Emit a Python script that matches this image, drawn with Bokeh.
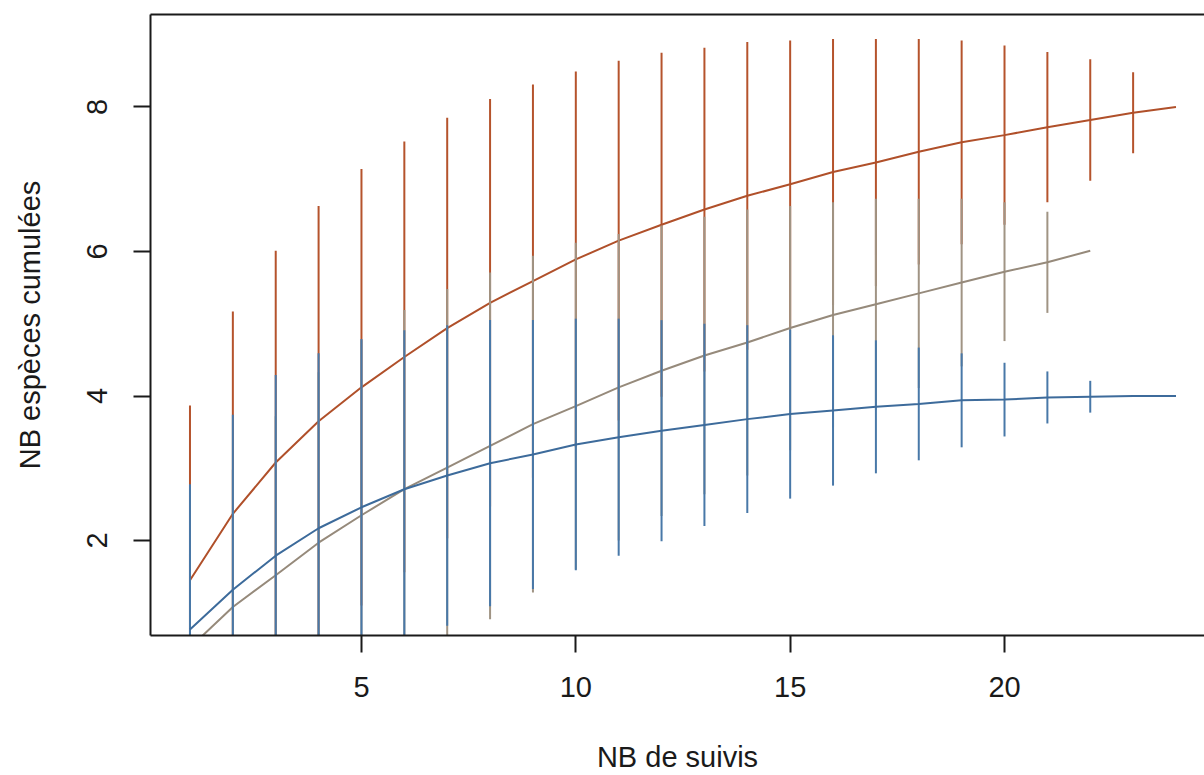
import numpy as np
from bokeh.plotting import figure
from bokeh.models import Range1d, LinearAxis, FixedTicker, ColumnDataSource
from bokeh.embed import file_html
from bokeh.resources import INLINE

# ---- data ----
rust_x = list(range(1, 25))
rust_mean = [1.45, 2.37, 3.08, 3.65, 4.12, 4.54, 4.94, 5.29, 5.59, 5.89, 6.15, 6.37,
             6.58, 6.77, 6.93, 7.10, 7.23, 7.38, 7.51, 7.61, 7.72, 7.82, 7.92, 8.00]
rust_sd = [1.21, 1.40, 1.465, 1.49, 1.51, 1.49, 1.455, 1.41, 1.36, 1.30, 1.245, 1.19,
           1.12, 1.065, 0.995, 0.92, 0.855, 0.78, 0.705, 0.62, 0.52, 0.42, 0.28, 0.0]

gray_x = list(range(1, 23))
gray_mean = [0.52, 1.08, 1.52, 1.97, 2.35, 2.71, 3.01, 3.31, 3.61, 3.86, 4.12,
             4.35, 4.56, 4.74, 4.94, 5.12, 5.27, 5.42, 5.57, 5.72, 5.85, 6.01]
gray_sd = [0.65, 0.95, 1.10, 1.18, 1.21, 1.24, 1.235, 1.20, 1.165, 1.13, 1.06,
           1.005, 0.96, 0.92, 0.845, 0.78, 0.73, 0.655, 0.58, 0.48, 0.35, 0.0]

blue_x = list(range(1, 25))
blue_mean = [0.77, 1.32, 1.79, 2.17, 2.46, 2.71, 2.90, 3.07, 3.19, 3.33, 3.43, 3.52,
             3.60, 3.68, 3.75, 3.80, 3.85, 3.89, 3.94, 3.95, 3.98, 3.99, 4.00, 4.00]
blue_sd = [1.005, 1.21, 1.25, 1.21, 1.165, 1.10, 1.04, 0.99, 0.93, 0.87, 0.82, 0.765,
           0.70, 0.65, 0.585, 0.52, 0.46, 0.39, 0.325, 0.255, 0.18, 0.11, 0.0, 0.0]

x_ticks = [5, 10, 15, 20]
y_ticks = [2, 4, 6, 8]
x_label = "NB de suivis"
y_label = "NB espèces cumulées"

series = [
    (rust_x, rust_mean, rust_sd, "#B5532C", "#B0502A"),
    (gray_x, gray_mean, gray_sd, "#A09484", "#968a7b"),
    (blue_x, blue_mean, blue_sd, "#4878A8", "#3D6B9B"),
]

FONT = "Liberation Sans"
INK = "#1a1a1a"

p = figure(width=1204, height=775, output_backend="svg", toolbar_location=None,
           x_range=Range1d(0.079, 24.665), y_range=Range1d(0.686, 9.279),
           min_border_left=150, min_border_right=0, min_border_top=14,
           min_border_bottom=138, x_axis_label=x_label, y_axis_label=y_label)
p.outline_line_color = None
p.grid.visible = False
p.background_fill_color = "white"
p.border_fill_color = "white"

for ax, ticks in ((p.xaxis[0], x_ticks), (p.yaxis[0], y_ticks)):
    ax.ticker = FixedTicker(ticks=ticks)
    ax.minor_tick_line_color = None
    ax.major_tick_in = 0
    ax.major_tick_out = 17
    ax.major_tick_line_width = 2
    ax.major_tick_line_color = INK
    ax.axis_line_width = 2
    ax.axis_line_color = INK
    ax.major_label_text_font = FONT
    ax.major_label_text_font_size = "29px"
    ax.major_label_text_color = INK
    ax.axis_label_text_font = FONT
    ax.axis_label_text_font_size = "29px"
    ax.axis_label_text_font_style = "normal"
    ax.axis_label_text_color = INK

p.xaxis[0].major_label_standoff = 24
p.xaxis[0].axis_label_standoff = 41
p.yaxis[0].major_label_standoff = 26
p.yaxis[0].major_label_orientation = "vertical"
p.yaxis[0].axis_label_standoff = 39

top = LinearAxis(ticker=FixedTicker(ticks=[]), major_label_text_font_size="0px",
                 major_tick_in=0, major_tick_out=0, minor_tick_line_color=None,
                 major_label_standoff=0, axis_line_width=2, axis_line_color=INK)
p.add_layout(top, "above")

for xs, m, sd, bar_col, line_col in series:
    m = np.array(m)
    sd = np.array(sd)
    src = ColumnDataSource(dict(x=xs, mean=m, lo=m - 2 * sd, hi=m + 2 * sd))
    p.segment(x0="x", y0="lo", x1="x", y1="hi", source=src,
              line_color=bar_col, line_width=2)
    p.line(x="x", y="mean", source=src, line_color=line_col, line_width=2)

open("out.html", "w").write(file_html(p, INLINE))
